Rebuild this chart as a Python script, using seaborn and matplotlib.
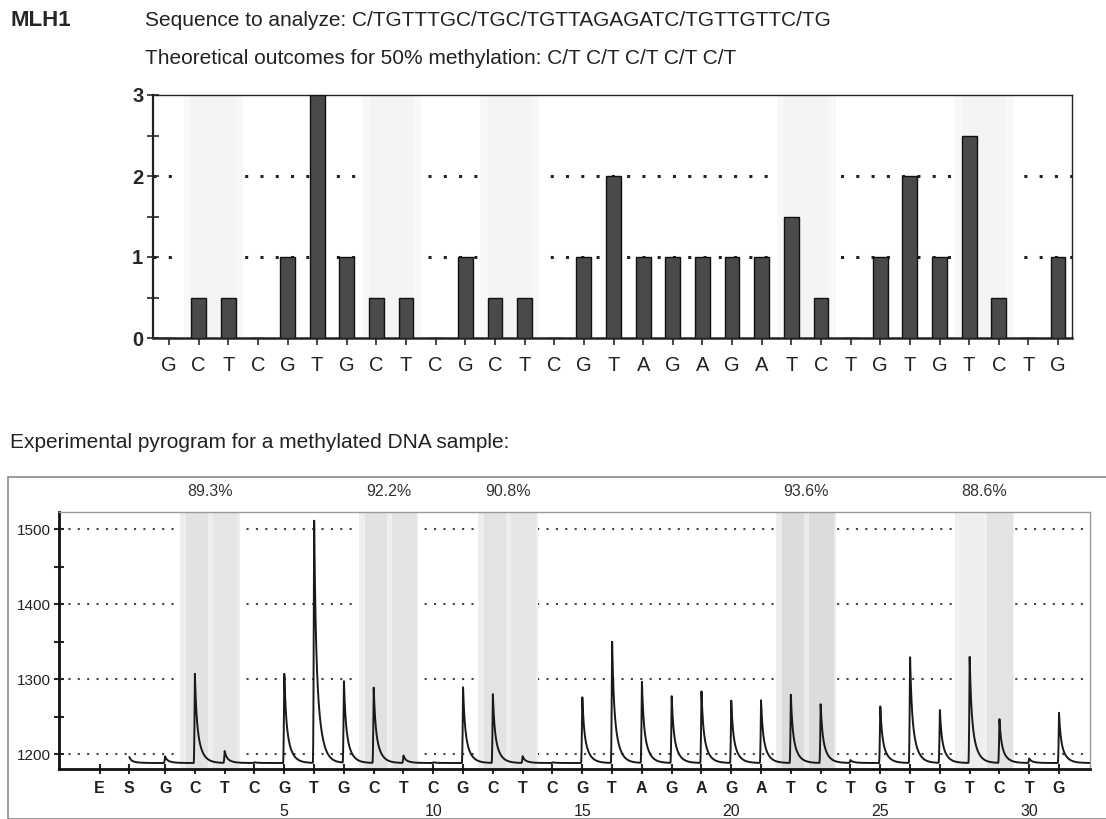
import numpy as np
import pandas as pd
import matplotlib
matplotlib.use("Agg")
import matplotlib.pyplot as plt
import matplotlib.patches as mpatches
from matplotlib.transforms import blended_transform_factory
import seaborn as sns

sns.set_style("white")
plt.rcParams['font.family'] = ['Liberation Sans', 'DejaVu Sans']

# ---- data ----
dispensation = list("GCTCGTGCTCGCTCGTAGAGATCTGTGTCTG")
positions = list(range(1, 32))
theoretical = [0, 0.5, 0.5, 0, 1, 3, 1, 0.5, 0.5, 0, 1, 0.5, 0.5, 0, 1,
               2, 1, 1, 1, 1, 1, 1.5, 0.5, 0, 1, 2, 1, 2.5, 0.5, 0, 1]

# measured peak heights of the pyrogram (E = enzyme, S = substrate, then 1..31)
pre_labels = ["E", "S"]
pre_positions = [-1.2, -0.2]
pre_heights = [None, 1196]
peak_heights = [1197, 1308, 1204, 1189, 1311, 1523, 1300, 1291, 1198, 1189,
                1290, 1280, 1197, 1189, 1279, 1355, 1299, 1279, 1285, 1272,
                1272, 1279, 1268, 1192, 1266, 1333, 1260, 1332, 1247, 1194, 1255]
baseline = 1188

# CpG sites analysed and their methylation percentage
cpg_sites = [2, 8, 12, 22, 28]
cpg_percent = ["89.3%", "92.2%", "90.8%", "93.6%", "88.6%"]

fig = plt.figure(figsize=(11.06, 8.19), dpi=100)

# ---- header texts ----
fig.text(10 / 1106, 1 - 21 / 819, "MLH1", fontsize=16, fontweight="bold", va="center")
fig.text(145 / 1106, 1 - 20 / 819,
         "Sequence to analyze: C/TGTTTGC/TGC/TGTTAGAGATC/TGTTGTTC/TG",
         fontsize=15, va="center", color="#222222")
fig.text(145 / 1106, 1 - 58 / 819,
         "Theoretical outcomes for 50% methylation: C/T C/T C/T C/T C/T",
         fontsize=15, va="center", color="#222222")
fig.text(10 / 1106, 1 - 443 / 819,
         "Experimental pyrogram for a methylated DNA sample:",
         fontsize=15, va="center", color="#222222")

# ---- top panel: theoretical histogram ----
ax1 = fig.add_axes([153 / 1106, 1 - 338 / 819, (1072 - 153) / 1106, (338 - 95) / 819])
df_top = pd.DataFrame({"pos": positions, "value": theoretical})
for yv in [1, 2]:
    ax1.axhline(yv, color="#222222", linestyle=(0, (1, 4)), linewidth=2.2, zorder=1)
for c in cpg_sites:
    ax1.axvspan(c - 0.5, c + 1.5, color="#f8f8f8", lw=0, zorder=2)
    ax1.axvspan(c - 0.25, c + 1.25, color="#f4f4f4", lw=0, zorder=2)
sns.barplot(data=df_top, x="pos", y="value", native_scale=True, orient="x",
            width=0.5, color="#4a4a4a", edgecolor="#111111", linewidth=1,
            saturation=1, ax=ax1, zorder=3)
ax1.set_xlim(0.46, 31.47)
ax1.set_ylim(0, 3)
ax1.set_xticks(positions)
ax1.set_xticklabels(dispensation, fontsize=14.5, color="#222222")
ax1.set_yticks([0, 1, 2, 3])
ax1.set_yticklabels(["0", "1", "2", "3"], fontsize=14.5, fontweight="bold")
ax1.set_yticks([0.5, 1.5, 2.5], minor=True)
ax1.tick_params(axis="x", direction="out", length=5, width=1.2, pad=8, bottom=True)
ax1.tick_params(axis="y", which="both", direction="inout", length=8, width=1.2, pad=3, left=True)
ax1.set_xlabel("")
ax1.set_ylabel("")
for s in ax1.spines.values():
    s.set_color("#222222")
    s.set_linewidth(1.0)
ax1.spines["left"].set_linewidth(1.6)
ax1.spines["bottom"].set_linewidth(1.8)

# ---- bottom panel: pyrogram ----
frame = mpatches.Rectangle((8 / 1106, 0), 1.2, 1 - 477 / 819, transform=fig.transFigure,
                           fill=False, edgecolor="#8a8a8a", linewidth=1.2)
fig.patches.append(frame)

ax2 = fig.add_axes([59 / 1106, 1 - 769 / 819, (1090 - 59) / 1106, (769 - 512) / 819])
for yv in [1200, 1300, 1400, 1500]:
    ax2.axhline(yv, color="#444444", linestyle=(0, (1, 3.5)), linewidth=1.5, zorder=1)

band_shades = [("#eeeeee", "#e2e2e2", "#e6e6e6"),
               ("#eeeeee", "#e2e2e2", "#e4e4e4"),
               ("#eeeeee", "#e3e3e3", "#e6e6e6"),
               ("#ececec", "#dcdcdc", "#dcdcdc"),
               ("#f1f1f1", "#eeeeee", "#e3e3e3")]
for c, (outer, first, second) in zip(cpg_sites, band_shades):
    ax2.axvspan(c - 0.5, c + 1.5, color=outer, lw=0, zorder=2)
    ax2.axvspan(c - 0.3, c + 0.45, color=first, lw=0, zorder=2)
    ax2.axvspan(c + 0.6, c + 1.45, color=second, lw=0, zorder=2)

# build the trace from the peak heights: fast rise, then decaying tail
all_pos = pre_positions[1:] + positions
all_h = pre_heights[1:] + peak_heights
xs = np.linspace(-0.2, 32.04, 8000)
ys = np.full_like(xs, float(baseline))
for p, h in zip(all_pos, all_h):
    d = xs - p
    amp = h - baseline
    rise = np.where((d >= -0.04) & (d < 0), ((d + 0.04) / 0.04) ** 2, 0.0)
    tail = np.where(d >= 0, 0.45 * np.exp(-d / 0.05) + 0.55 * np.exp(-d / 0.17), 0.0)
    ys += amp * (rise + tail)
df_trace = pd.DataFrame({"x": xs, "signal": ys})
sns.lineplot(data=df_trace, x="x", y="signal", estimator=None, sort=False,
             color="#1a1a1a", linewidth=1.4, ax=ax2, zorder=4)

ax2.set_xlim(-2.56, 32.04)
ax2.set_ylim(1180, 1523)
ax2.set_xticks(pre_positions + positions)
ax2.set_xticklabels(pre_labels + dispensation, fontsize=11.5, fontweight="bold",
                    color="#222222")
ax2.set_yticks([1200, 1300, 1400, 1500])
ax2.set_yticklabels(["1200", "1300", "1400", "1500"], fontsize=11, color="#222222")
ax2.set_yticks([1250, 1350, 1450], minor=True)
ax2.tick_params(axis="x", direction="inout", length=7, width=1.5, pad=5, bottom=True)
ax2.tick_params(axis="y", which="both", direction="inout", length=7, width=1.5, pad=2, left=True)
ax2.set_xlabel("")
ax2.set_ylabel("")
for s in ["top", "right"]:
    ax2.spines[s].set_color("#9a9a9a")
    ax2.spines[s].set_linewidth(1.0)
for s in ["left", "bottom"]:
    ax2.spines[s].set_color("#111111")
    ax2.spines[s].set_linewidth(2.0)

tr = blended_transform_factory(ax2.transData, fig.transFigure)
for p in positions:
    if p % 5 == 0:
        ax2.text(p, 1 - 811 / 819, str(p), transform=tr, ha="center", va="center",
                 fontsize=11.5, color="#222222")
for c, pct in zip(cpg_sites, cpg_percent):
    ax2.text(c + 0.5, 1 - 492 / 819, pct, transform=tr, ha="center", va="center",
             fontsize=11.5, color="#333333")

fig.savefig("out.png", dpi=100)
